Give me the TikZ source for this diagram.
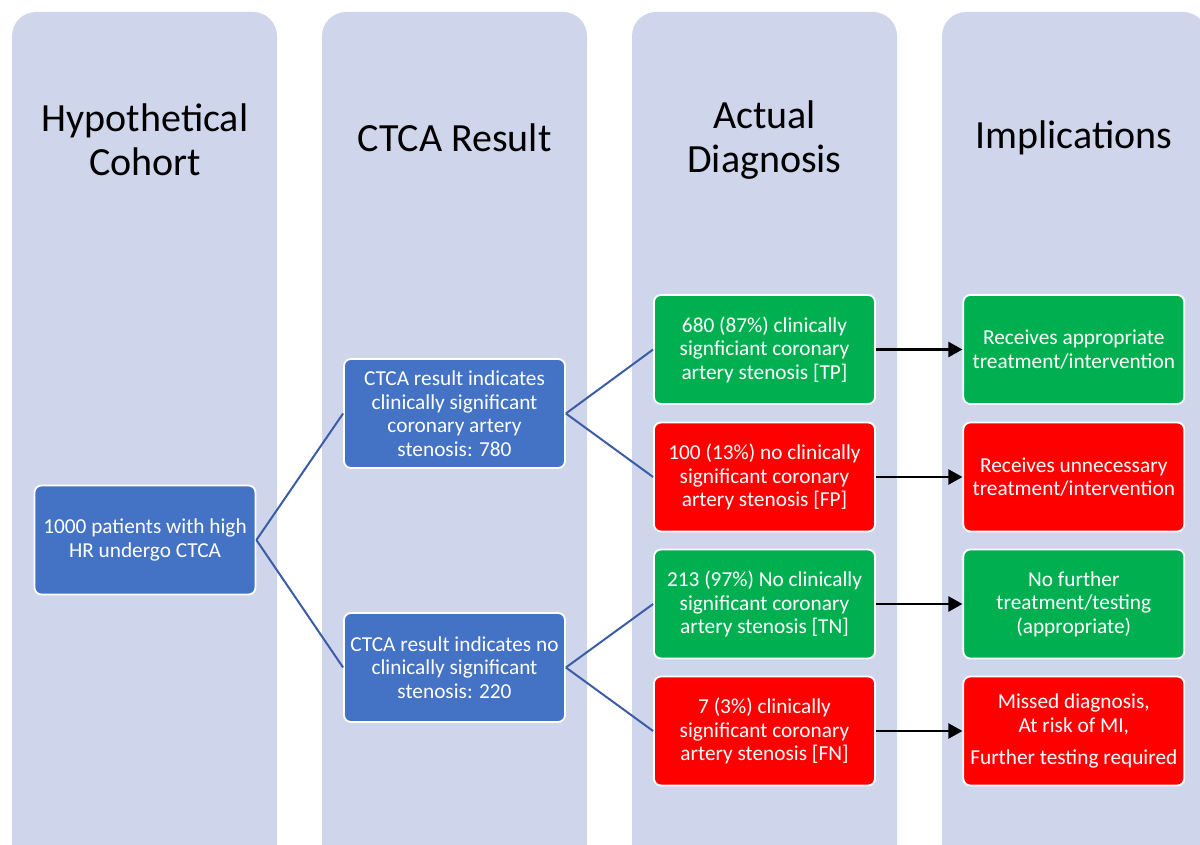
\documentclass[tikz,border=0pt]{standalone}
\usepackage{fontspec}
\setmainfont{Carlito}
\usetikzlibrary{arrows.meta,positioning}
\definecolor{LaneBlue}{HTML}{CFD5EA}
\definecolor{CohortBlue}{HTML}{4472C4}
\definecolor{LinkBlue}{HTML}{3B5CA6}
\definecolor{TrueGreen}{HTML}{00B050}
\definecolor{FalseRed}{HTML}{FF0000}

\begin{document}
\begin{tikzpicture}[x=1pt, y=-1pt,
  node distance=86.5pt,
  lane/.style={fill=LaneBlue, rounded corners=24pt},
  heading/.style={align=center, text=black, font=\fontsize{40}{44}\selectfont},
  box/.style={draw=white, line width=1.8pt, rounded corners=7pt, minimum width=221pt,
    minimum height=109pt, align=center, text=white, inner sep=3pt,
    font=\fontsize{21.3}{23.5}\selectfont},
  branch/.style={draw=LinkBlue, line width=2pt},
  flow/.style={-{Triangle[length=14pt, width=15pt]}, line width=2.3pt, draw=black}
]
\useasboundingbox (0,0) rectangle (1200,845);
\clip (0,0) rectangle (1200,845);
% background lanes
\fill[lane] (12,12) rectangle (277,890);
\fill[lane] (322,12) rectangle (587,890);
\fill[lane] (632,12) rectangle (897,890);
\fill[lane] (942,12) rectangle (1207,890);
% headings
\node[heading] (hcohort) at (145,140) {Hypothetical\\Cohort};
\node[heading] (hresult) at (454.5,138) {CTCA Result};
\node[heading] (hdiag) at (764.5,140) {Actual\\Diagnosis};
\node[heading] (himpl) at (1074,138) {Implications};
% cohort and CTCA result
\node[box, fill=CohortBlue] (cohort) at (145,540) {1000 patients with high\\HR undergo CTCA};
\node[box, fill=CohortBlue] (pos) at (454.5,413.5) {CTCA result indicates\\clinically significant\\coronary artery\\stenosis: 780};
\node[box, fill=CohortBlue] (neg) at (454.5,667.5) {CTCA result indicates no\\clinically significant\\stenosis: 220};
% actual diagnosis
\node[box, fill=TrueGreen] (tp) at (764.5,349.5) {680 (87\%) clinically\\signficiant coronary\\artery stenosis [TP]};
\node[box, fill=FalseRed] (fp) at (764.5,477) {100 (13\%) no clinically\\significant coronary\\artery stenosis [FP]};
\node[box, fill=TrueGreen] (tn) at (764.5,604) {213 (97\%) No clinically\\significant coronary\\artery stenosis [TN]};
\node[box, fill=FalseRed] (fn) at (764.5,731) {7 (3\%) clinically\\significant coronary\\artery stenosis [FN]};
% implications
\node[box, fill=TrueGreen, right=of tp] (tpimp) {Receives appropriate\\treatment/intervention};
\node[box, fill=FalseRed, right=of fp] (fpimp) {Receives unnecessary\\treatment/intervention};
\node[box, fill=TrueGreen, right=of tn] (tnimp) {No further\\treatment/testing\\(appropriate)};
\node[box, fill=FalseRed, right=of fn] (fnimp) {Missed diagnosis,\\At risk of MI,\\[9pt]Further testing required};
% connectors
\draw[branch] (cohort.east) -- (pos.west);
\draw[branch] (cohort.east) -- (neg.west);
\draw[branch] (pos.east) -- (tp.west);
\draw[branch] (pos.east) -- (fp.west);
\draw[branch] (neg.east) -- (tn.west);
\draw[branch] (neg.east) -- (fn.west);
\draw[flow] (tp) -- (tpimp);
\draw[flow] (fp) -- (fpimp);
\draw[flow] (tn) -- (tnimp);
\draw[flow] (fn) -- (fnimp);
\end{tikzpicture}
\end{document}
